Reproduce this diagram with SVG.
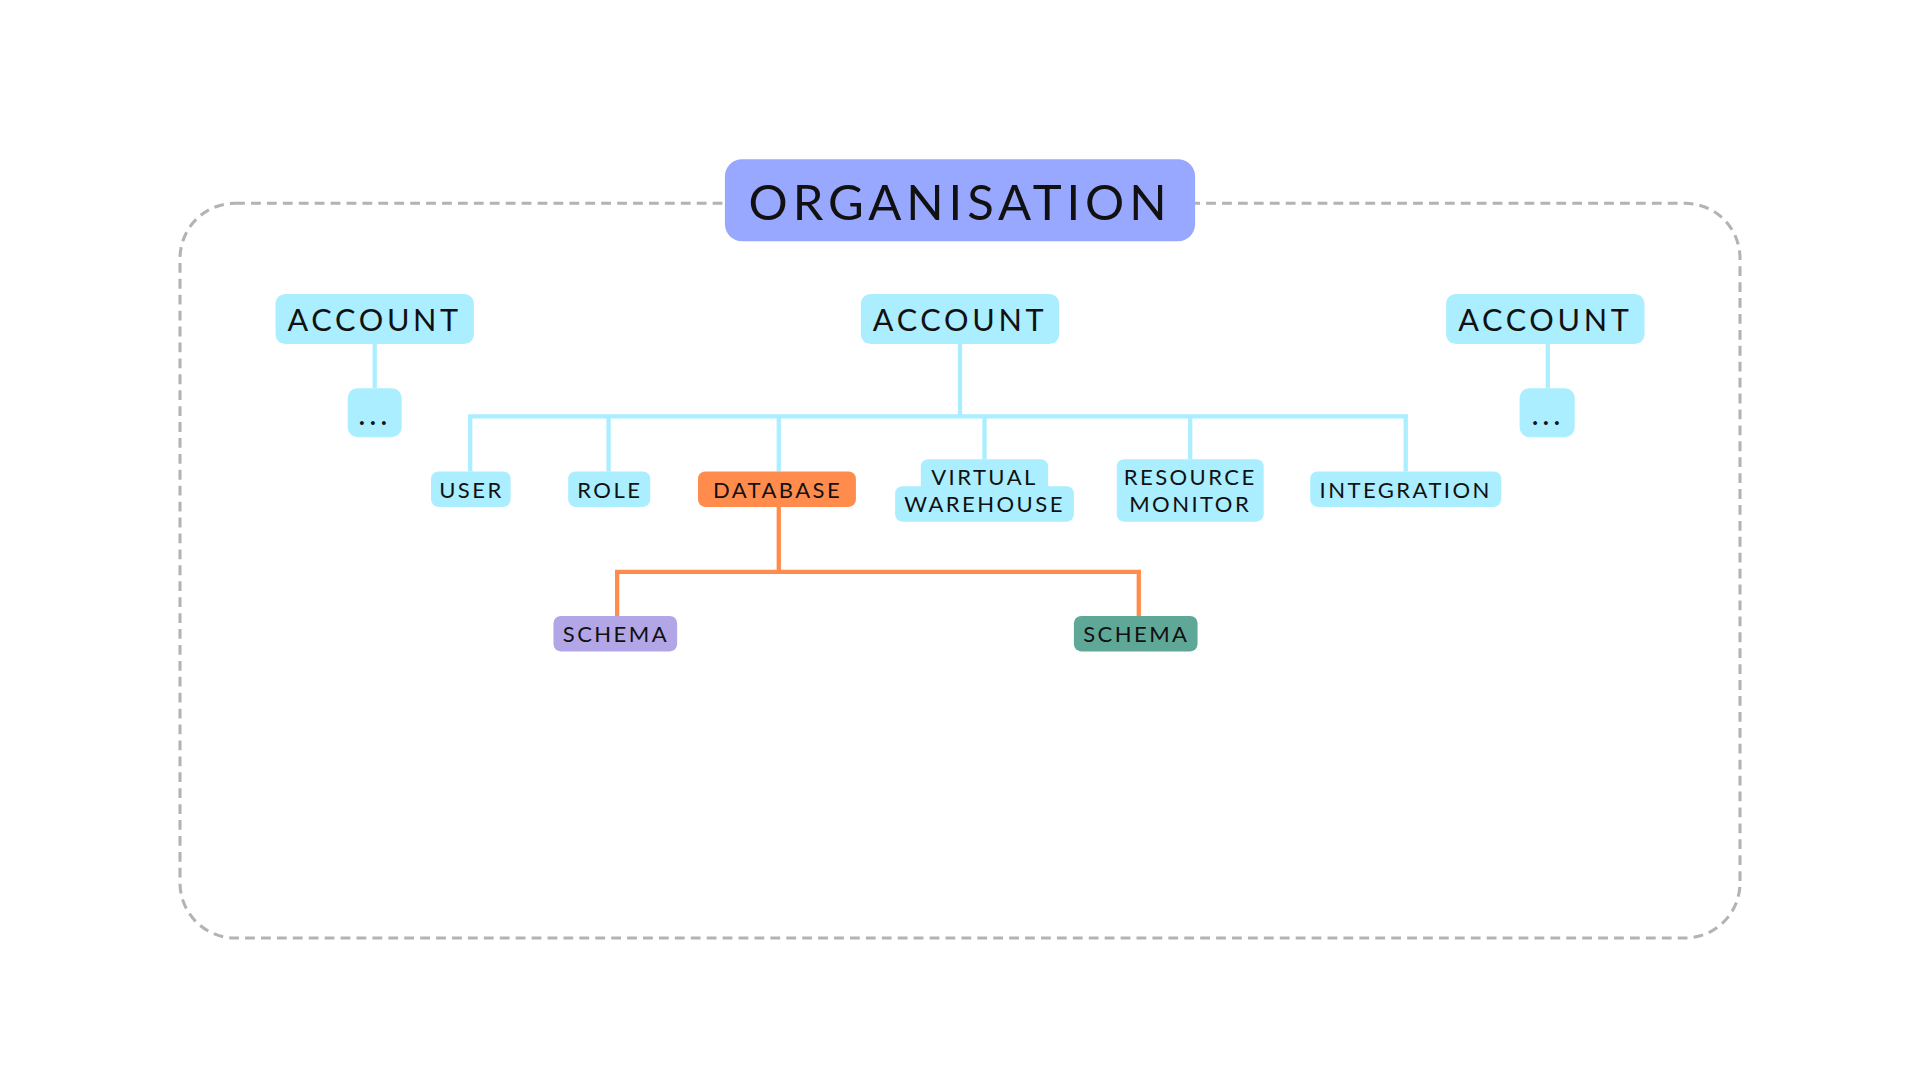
<svg xmlns="http://www.w3.org/2000/svg" width="1920" height="1080" viewBox="0 0 1920 1080">
<style>
text{font-family:"Lato","Liberation Sans",sans-serif;fill:#111;text-anchor:middle;dominant-baseline:central}
.c{fill:#aaeeff}
.s{font-size:18px;letter-spacing:2px}
.a{font-size:25px;letter-spacing:3px}
.ln{fill:none;stroke:#aaeeff;stroke-width:3.5}
.lo{fill:none;stroke:#ff8c4d;stroke-width:3.5}
</style>
<rect width="1920" height="1080" fill="#fff"/>
<g transform="scale(1.2245)">
<rect x="147" y="166" width="1274" height="600" rx="45" fill="none" stroke="#b3b3b3" stroke-width="2.5" stroke-dasharray="8 5"/>
<g id="connectors">
<path class="ln" d="M306 281V317M1264 281V317M784 281V340M384 385V340H1148V385M497 340V385M636 340V385M804 340V375M972 340V375"/>
<path class="lo" d="M636 414V467M504 503V467H930V503"/>
</g>
<g id="org"><rect x="592" y="130" width="384" height="67" rx="14" fill="#99a8ff"/><text x="784" y="164" style="font-size:40px;letter-spacing:4px">ORGANISATION</text></g>
<g id="acc1"><rect class="c" x="225" y="240" width="162" height="41" rx="8"/><text class="a" x="306" y="261">ACCOUNT</text></g>
<g id="acc2"><rect class="c" x="703" y="240" width="162" height="41" rx="8"/><text class="a" x="784" y="261">ACCOUNT</text></g>
<g id="acc3"><rect class="c" x="1181" y="240" width="162" height="41" rx="8"/><text class="a" x="1262" y="261">ACCOUNT</text></g>
<g id="more1"><rect class="c" x="284" y="317" width="44" height="40" rx="8"/><text class="a" x="306" y="338">...</text></g>
<g id="more3"><rect class="c" x="1241" y="317" width="45" height="40" rx="8"/><text class="a" x="1264" y="338">...</text></g>
<g id="user"><rect class="c" x="352" y="385" width="65" height="29" rx="6"/><text class="s" x="385" y="400">USER</text></g>
<g id="role"><rect class="c" x="464" y="385" width="67" height="29" rx="6"/><text class="s" x="498" y="400">ROLE</text></g>
<g id="database"><rect x="570" y="385" width="129" height="29" rx="6" fill="#ff8c4d"/><text class="s" x="635" y="400">DATABASE</text></g>
<g id="vw"><rect class="c" x="752" y="375" width="104" height="28" rx="6"/><rect class="c" x="731" y="397" width="146" height="29" rx="6"/><text class="s" x="804" y="389">VIRTUAL</text><text class="s" x="804" y="411">WAREHOUSE</text></g>
<g id="rm"><rect class="c" x="912" y="375" width="120" height="51" rx="6"/><text class="s" x="972" y="389">RESOURCE</text><text class="s" x="972" y="411">MONITOR</text></g>
<g id="integration"><rect class="c" x="1070" y="385" width="156" height="29" rx="6"/><text class="s" x="1148" y="400">INTEGRATION</text></g>
<g id="schema1"><rect x="452" y="503" width="101" height="29" rx="6" fill="#b3a6e6"/><text class="s" x="503" y="517">SCHEMA</text></g>
<g id="schema2"><rect x="877" y="503" width="101" height="29" rx="6" fill="#5fa898"/><text class="s" x="928" y="517">SCHEMA</text></g>
</g>
</svg>
